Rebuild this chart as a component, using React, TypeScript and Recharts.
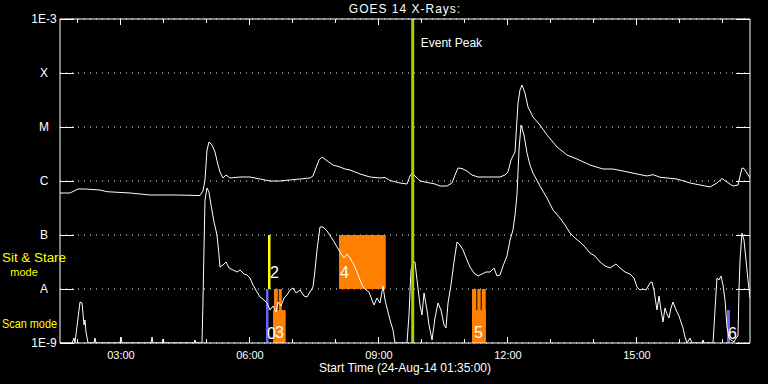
import React from "react";
import {
  LineChart,
  Line,
  XAxis,
  YAxis,
  CartesianGrid,
  ReferenceArea,
  ReferenceLine,
} from "recharts";

// time in hours (UT), flux as log10(W/m^2)
const startHour = 1 + 35 / 60;
const endHour = 17.63;
const eventPeakHour = 9.786;

const hourTicks = [2, 3, 4, 5, 6, 7, 8, 9, 10, 11, 12, 13, 14, 15, 16, 17];
const fluxTicks = [-9, -8, -7, -6, -5, -4, -3];
const fluxLabels = ["1E-9", "A", "B", "C", "M", "X", "1E-3"];

// 1-8 A channel
const longTime = [
  1.583, 1.816, 2.002, 2.165, 2.514, 2.676, 3.211, 3.676, 4.258, 4.839, 4.909, 4.955,
  5.002, 5.048, 5.118, 5.188, 5.258, 5.304, 5.374, 5.444, 5.537, 5.769, 6.002, 6.235,
  6.467, 6.7, 6.932, 7.165, 7.397, 7.467, 7.537, 7.607, 7.676, 7.769, 7.932, 8.095,
  8.211, 8.328, 8.56, 8.793, 9.025, 9.142, 9.258, 9.491, 9.653, 9.723, 9.77, 9.839,
  9.956, 10.072, 10.304, 10.421, 10.583, 10.7, 10.77, 10.839, 10.932, 11.049, 11.165,
  11.305, 11.583, 11.816, 11.932, 12.002, 12.072, 12.165, 12.235, 12.281, 12.328,
  12.397, 12.467, 12.583, 12.746, 12.909, 13.142, 13.374, 13.607, 13.909, 14.211,
  14.444, 14.676, 15.002, 15.235, 15.374, 15.537, 15.932, 16.235, 16.7, 16.862, 16.979,
  17.095, 17.235, 17.351, 17.444, 17.49, 17.56, 17.63,
];
const longFlux = [
  -6.222, -6.222, -6.148, -6.148, -6.167, -6.198, -6.222, -6.259, -6.259, -6.269, -6.185,
  -5.981, -5.426, -5.278, -5.333, -5.463, -5.704, -5.833, -5.944, -5.889, -5.944, -5.926,
  -5.926, -5.963, -6.0, -6.0, -5.981, -5.963, -5.944, -5.907, -5.759, -5.611, -5.556,
  -5.611, -5.704, -5.741, -5.778, -5.796, -5.87, -5.926, -5.944, -5.935, -5.991, -6.037,
  -6.056, -5.907, -5.852, -5.907, -6.0, -6.019, -6.056, -6.093, -6.093, -6.037, -5.889,
  -5.759, -5.769, -5.815, -5.889, -5.926, -5.926, -5.926, -5.889, -5.833, -5.611, -5.463,
  -4.556, -4.315, -4.222, -4.37, -4.63, -4.815, -4.963, -5.148, -5.37, -5.519, -5.593,
  -5.704, -5.778, -5.778, -5.815, -5.87, -5.907, -5.883, -5.931, -5.963, -6.037, -6.111,
  -6.037, -5.954, -6.019, -6.093, -6.074, -5.759, -5.769, -5.852, -5.944,
];

// 0.5-4 A channel
const shortTime = [
  1.583, 1.863, 1.909, 1.932, 1.955, 2.002, 2.049, 2.095, 2.142, 2.165, 2.188, 2.235,
  2.374, 2.397, 2.421, 2.979, 3.002, 3.025, 3.7, 3.723, 3.746, 3.956, 3.979, 4.002, 4.7,
  4.723, 4.746, 4.886, 4.909, 4.955, 5.002, 5.048, 5.095, 5.165, 5.235, 5.281, 5.304,
  5.374, 5.444, 5.514, 5.607, 5.7, 5.769, 5.863, 5.932, 6.002, 6.072, 6.165, 6.235,
  6.328, 6.397, 6.467, 6.537, 6.607, 6.653, 6.723, 6.793, 6.863, 6.932, 7.002, 7.072,
  7.165, 7.258, 7.328, 7.397, 7.467, 7.514, 7.56, 7.63, 7.7, 7.793, 7.932, 8.025, 8.095,
  8.188, 8.258, 8.328, 8.421, 8.49, 8.56, 8.63, 8.7, 8.77, 8.839, 8.886, 8.956, 9.025,
  9.095, 9.142, 9.188, 9.258, 9.328, 9.374, 9.653, 9.7, 9.746, 9.793, 9.839, 9.886,
  9.956, 10.002, 10.049, 10.118, 10.165, 10.235, 10.304, 10.374, 10.444, 10.514, 10.56,
  10.607, 10.676, 10.746, 10.816, 10.886, 10.956, 11.049, 11.118, 11.211, 11.305, 11.398,
  11.491, 11.583, 11.676, 11.746, 11.816, 11.886, 11.979, 12.049, 12.118, 12.165, 12.211,
  12.258, 12.305, 12.374, 12.444, 12.514, 12.583, 12.746, 12.909, 13.049, 13.211, 13.328,
  13.444, 13.56, 13.676, 13.793, 13.909, 14.025, 14.142, 14.258, 14.374, 14.444, 14.514,
  14.607, 14.723, 14.839, 14.932, 15.002, 15.072, 15.142, 15.211, 15.304, 15.351, 15.397,
  15.421, 15.467, 15.514, 15.56, 15.607, 15.653, 15.7, 15.746, 15.793, 15.839, 15.909,
  15.979, 16.025, 16.072, 16.118, 16.165, 16.235, 16.281, 16.514, 16.537, 16.56, 16.77,
  16.816, 16.862, 16.909, 16.956, 17.002, 17.049, 17.095, 17.142, 17.188, 17.258, 17.305,
  17.351, 17.374, 17.398, 17.444, 17.49, 17.537, 17.583, 17.63,
];
const shortFlux = [
  -9, -9, -8.907, -9, -8.852, -8.537, -8.241, -8.259, -8.667, -8.574, -8.796, -9, -9,
  -8.907, -9, -9, -8.889, -9, -9, -8.889, -9, -9, -8.926, -9, -9, -8.944, -9, -9, -8.204,
  -6.352, -6.13, -6.204, -6.444, -6.759, -7.0, -7.37, -7.593, -7.556, -7.5, -7.611,
  -7.648, -7.685, -7.648, -7.722, -7.741, -7.796, -7.926, -8.056, -8.148, -8.204, -8.259,
  -8.389, -8.315, -8.426, -8.241, -8.315, -8.167, -8.111, -8.019, -7.981, -8.074, -8.019,
  -8.13, -8.148, -8.056, -7.963, -7.648, -7.278, -6.852, -6.852, -6.926, -7.093, -7.222,
  -7.315, -7.426, -7.352, -7.426, -7.556, -7.685, -7.833, -7.963, -8.019, -8.056, -8.204,
  -8.296, -8.167, -8.259, -7.944, -8.204, -8.352, -8.574, -8.759, -9, -9, -8.481, -7.648,
  -7.5, -7.5, -7.833, -8.296, -8.481, -8.074, -8.389, -8.667, -8.944, -8.537, -8.259,
  -8.389, -8.667, -8.722, -8.259, -7.926, -7.5, -7.13, -7.185, -7.278, -7.463, -7.593,
  -7.704, -7.759, -7.722, -7.685, -7.685, -7.611, -7.759, -7.741, -7.574, -7.389, -7.093,
  -6.907, -6.63, -6.259, -5.426, -4.963, -5.148, -5.481, -5.704, -5.852, -6.093, -6.315,
  -6.537, -6.685, -6.815, -6.963, -7.056, -7.13, -7.222, -7.333, -7.389, -7.5, -7.574,
  -7.611, -7.574, -7.537, -7.611, -7.685, -7.722, -7.796, -7.963, -8.019, -8.0, -8.019,
  -7.889, -7.87, -8.019, -8.148, -8.389, -8.13, -8.389, -8.611, -8.352, -8.463, -8.537,
  -8.352, -8.241, -8.389, -8.5, -8.611, -8.722, -8.889, -9, -8.907, -9, -9, -8.944, -9,
  -9, -8.389, -7.796, -7.833, -7.759, -7.926, -8.204, -8.704, -8.907, -8.944, -8.981,
  -8.907, -8.87, -8.019, -7.463, -6.963, -7.093, -7.463, -7.833, -8.167,
];

// observing windows: [from, to, top, bottom] in hours / log flux
const scanBlue = [
  [6.374, 6.432, -8, -9],
  [17.095, 17.165, -8.39, -9],
];
const scanOrange = [
  [6.56, 6.65, -8, -9],
  [6.67, 6.74, -8, -9],
  [11.165, 11.265, -8, -9],
  [11.288, 11.367, -8, -9],
  [11.39, 11.484, -8, -9],
  [6.537, 6.83, -8.39, -9],
  [11.165, 11.484, -8.39, -9],
];
const stareYellow = [[6.421, 6.479, -7, -8]];
const stareOrange = [[8.072, 9.158, -7, -8]];

// raster numbers: which window they mark
const blueLabels = ["0", "6"];
const orangeScanLabels: Record<number, string> = { 5: "3", 6: "5" };
const yellowLabels = ["2"];
const orangeStareLabels = ["4"];

const FONT = "'Liberation Sans', Arial, sans-serif";
const ORANGE = "#ff8000";
const BLUE = "#6464ff";
const YELLOW = "#ffff00";

const longData = longTime.map((t, i) => ({ t, v: longFlux[i] }));
const shortData = shortTime.map((t, i) => ({ t, v: shortFlux[i] }));

const fmtHour = (h: number) => `${String(h).padStart(2, "0")}:00`;

const BottomTick = (props: any) => {
  const { x, y, payload } = props;
  const major = payload.value % 3 === 0;
  return (
    <g>
      <line x1={x} x2={x} y1={y} y2={y - (major ? 6 : 4)} stroke="#fff" shapeRendering="crispEdges" />
      {major && (
        <text x={x} y={y + 16} textAnchor="middle" fill="#fff" fontSize={11} fontFamily={FONT}>
          {fmtHour(payload.value)}
        </text>
      )}
    </g>
  );
};

const TopTick = (props: any) => {
  const { x, y, payload } = props;
  const major = payload.value % 3 === 0;
  return <line x1={x} x2={x} y1={y} y2={y + (major ? 6 : 4)} stroke="#fff" shapeRendering="crispEdges" />;
};

const LeftTick = (props: any) => {
  const { x, y, payload, index } = props;
  return (
    <g>
      <line x1={x} x2={x + 14} y1={y} y2={y} stroke="#fff" shapeRendering="crispEdges" />
      <text x={x - 16} y={y + 4} textAnchor="middle" fill="#fff" fontSize={12} fontFamily={FONT}>
        {fluxLabels[index] ?? payload.value}
      </text>
    </g>
  );
};

const RightTick = (props: any) => {
  const { x, y } = props;
  return <line x1={x - 14} x2={x} y1={y} y2={y} stroke="#fff" shapeRendering="crispEdges" />;
};

const numLabel = (text: string, dx: number, up: number) => (props: any) => {
  const vb = props.viewBox;
  return (
    <text x={vb.x + dx} y={vb.y + vb.height - up} fill="#fff" fontSize={16} fontFamily={FONT}>
      {text}
    </text>
  );
};

const modeLabels = (props: any) => {
  const vb = props.viewBox;
  return (
    <g fill={YELLOW} fontFamily={FONT}>
      <text x={2} y={vb.y + 243} fontSize={12} textLength={64} lengthAdjust="spacingAndGlyphs">
        Sit &amp; Stare
      </text>
      <text x={24} y={vb.y + 257} fontSize={11} textAnchor="middle">
        mode
      </text>
      <text x={2} y={vb.y + 309} fontSize={12} textLength={55} lengthAdjust="spacingAndGlyphs">
        Scan mode
      </text>
    </g>
  );
};

const titleLabel = (props: any) => {
  const vb = props.viewBox;
  return (
    <text x={vb.x + vb.width / 2} y={13} textAnchor="middle" fill="#fff" fontSize={12} fontFamily={FONT} letterSpacing={1}>
      GOES 14 X-Rays:
    </text>
  );
};

const startLabel = (props: any) => {
  const vb = props.viewBox;
  return (
    <text x={vb.x + vb.width / 2} y={vb.y + 29} textAnchor="middle" fill="#fff" fontSize={12} fontFamily={FONT}>
      Start Time (24-Aug-14 01:35:00)
    </text>
  );
};

const peakLabel = (props: any) => {
  const vb = props.viewBox;
  return (
    <text x={vb.x + 8} y={vb.y + 28} fill="#fff" fontSize={12} fontFamily={FONT}>
      Event Peak
    </text>
  );
};

export default function App() {
  return (
    <div style={{ position: "fixed", left: 0, top: 0, width: 768, height: 384, background: "#000" }}>
      <LineChart width={768} height={384} margin={{ top: 0, right: 0, bottom: 0, left: 0 }}>
        <CartesianGrid
          vertical={false}
          stroke="#fff"
          strokeDasharray="1 5"
          xAxisId="b"
          yAxisId="l"
        />
        <XAxis
          xAxisId="b"
          dataKey="t"
          type="number"
          domain={[startHour, endHour]}
          ticks={hourTicks}
          allowDataOverflow
          height={41}
          tickSize={0}
          tickMargin={0}
          axisLine={{ stroke: "#fff" }}
          tick={<BottomTick />}
          label={startLabel}
        />
        <XAxis
          xAxisId="top"
          orientation="top"
          dataKey="t"
          type="number"
          domain={[startHour, endHour]}
          ticks={hourTicks}
          allowDataOverflow
          height={19}
          tickSize={0}
          tickMargin={0}
          axisLine={{ stroke: "#fff" }}
          tick={<TopTick />}
          label={titleLabel}
        />
        <YAxis
          yAxisId="l"
          type="number"
          domain={[-9, -3]}
          ticks={fluxTicks}
          allowDataOverflow
          width={60}
          tickSize={0}
          tickMargin={0}
          axisLine={{ stroke: "#fff" }}
          tick={<LeftTick />}
          label={modeLabels}
        />
        <YAxis
          yAxisId="r"
          orientation="right"
          type="number"
          domain={[-9, -3]}
          ticks={fluxTicks}
          allowDataOverflow
          width={18}
          tickSize={0}
          tickMargin={0}
          axisLine={{ stroke: "#fff" }}
          tick={<RightTick />}
        />

        {stareYellow.map(([a, b, top, bot], i) => (
          <ReferenceArea key={`sy${i}`} xAxisId="b" yAxisId="l" x1={a} x2={b} y1={bot} y2={top}
            fill={YELLOW} fillOpacity={1} stroke="none" label={numLabel(yellowLabels[i], 2, 11)} />
        ))}
        {stareOrange.map(([a, b, top, bot], i) => (
          <ReferenceArea key={`so${i}`} xAxisId="b" yAxisId="l" x1={a} x2={b} y1={bot} y2={top}
            fill={ORANGE} fillOpacity={1} stroke="none" label={numLabel(orangeStareLabels[i], 1, 11)} />
        ))}
        {scanOrange.map(([a, b, top, bot], i) => (
          <ReferenceArea key={`sc${i}`} xAxisId="b" yAxisId="l" x1={a} x2={b} y1={bot} y2={top}
            fill={ORANGE} fillOpacity={1} stroke="none"
            label={orangeScanLabels[i] ? numLabel(orangeScanLabels[i], 2, 5) : undefined} />
        ))}
        {scanBlue.map(([a, b, top, bot], i) => (
          <ReferenceArea key={`sb${i}`} xAxisId="b" yAxisId="l" x1={a} x2={b} y1={bot} y2={top}
            fill={BLUE} fillOpacity={1} stroke="none" label={numLabel(blueLabels[i], 1, 4)} />
        ))}

        <Line
          xAxisId="b"
          yAxisId="l"
          data={longData}
          dataKey="v"
          type="linear"
          stroke="#fff"
          strokeWidth={1}
          dot={false}
          isAnimationActive={false}
        />
        <Line
          xAxisId="b"
          yAxisId="l"
          data={shortData}
          dataKey="v"
          type="linear"
          stroke="#fff"
          strokeWidth={1}
          dot={false}
          isAnimationActive={false}
        />
        <ReferenceLine
          xAxisId="b"
          yAxisId="l"
          x={eventPeakHour}
          stroke="#a4d400"
          strokeWidth={3}
          label={peakLabel}
        />
      </LineChart>
    </div>
  );
}
